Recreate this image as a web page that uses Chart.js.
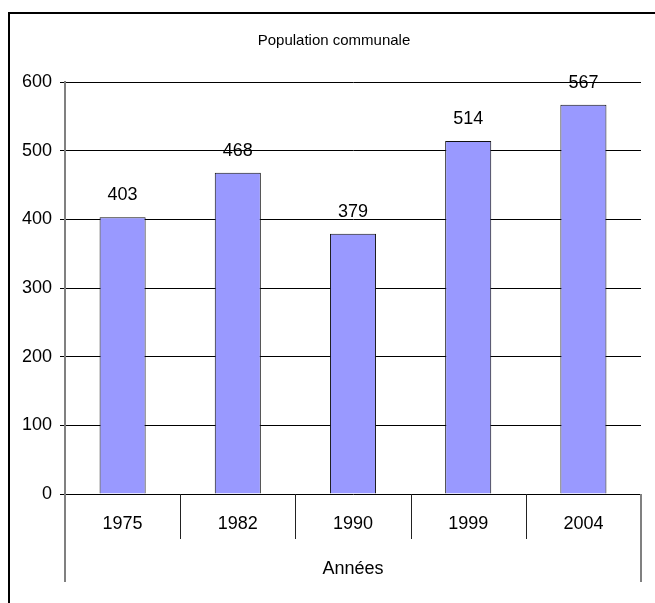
<!DOCTYPE html>
<html>
<head>
<meta charset="utf-8">
<script src="https://cdn.jsdelivr.net/npm/chart.js@4"></script>
<style>
  html, body { margin: 0; padding: 0; background: #fff; }
  canvas { display: block; }
</style>
</head>
<body>
<canvas id="chart" width="655" height="603"></canvas>
<script>
var years = ["1975", "1982", "1990", "1999", "2004"];
var population = [403, 468, 379, 514, 567];
var yMin = 0;
var yMax = 600;
var yStep = 100;
var chartTitle = "Population communale";
var axisTitle = "Années";

var fontFamily = "'Liberation Sans', Arial, sans-serif";

// value labels above the bars
var valueLabels = {
  id: 'valueLabels',
  afterDatasetsDraw: function (chart) {
    var ctx = chart.ctx;
    var meta = chart.getDatasetMeta(0);
    ctx.save();
    ctx.font = "18px " + fontFamily;
    ctx.fillStyle = "#000";
    ctx.textAlign = "center";
    ctx.textBaseline = "middle";
    meta.data.forEach(function (bar, i) {
      ctx.fillText(population[i], bar.x, bar.y - 22);
    });
    ctx.restore();
  }
};

// frame, title + category separators under the x axis
var decor = {
  id: 'decor',
  beforeDraw: function (chart) {
    var ctx = chart.ctx;
    ctx.save();
    ctx.fillStyle = "#fff";
    ctx.fillRect(0, 0, chart.width, chart.height);
    ctx.restore();
  },
  afterDraw: function (chart) {
    var ctx = chart.ctx;
    var a = chart.chartArea;
    var xs = chart.scales.x;
    var n = years.length;
    ctx.save();
    ctx.strokeStyle = "#000";
    ctx.lineWidth = 2;
    ctx.beginPath();
    ctx.moveTo(9, chart.height);
    ctx.lineTo(9, 13);
    ctx.lineTo(chart.width, 13);
    ctx.stroke();

    ctx.font = "15px " + fontFamily;
    ctx.fillStyle = "#000";
    ctx.textAlign = "center";
    ctx.textBaseline = "middle";
    ctx.fillText(chartTitle, 334, 41);

    for (var i = 0; i <= n; i++) {
      var x, y2;
      if (i == 0 || i == n) {
        x = i == 0 ? a.left : a.right;
        y2 = a.bottom + 88;
        ctx.strokeStyle = "#808080";
        ctx.lineWidth = 2;
      } else {
        x = Math.round((xs.getPixelForValue(i - 1) + xs.getPixelForValue(i)) / 2) + 0.5;
        y2 = a.bottom + 45;
        ctx.strokeStyle = "#222";
        ctx.lineWidth = 1;
      }
      ctx.beginPath();
      ctx.moveTo(x, a.bottom);
      ctx.lineTo(x, y2);
      ctx.stroke();
    }
    ctx.restore();
  }
};

var chart = new Chart(document.getElementById("chart"), {
  type: 'bar',
  data: {
    labels: years,
    datasets: [{
      label: chartTitle,
      data: population,
      backgroundColor: '#9999FF',
      borderColor: '#111',
      borderWidth: 1,
      categoryPercentage: 1,
      barPercentage: 0.4
    }]
  },
  options: {
    responsive: false,
    animation: false,
    devicePixelRatio: 1,
    layout: {
      padding: { left: 0, right: 14, top: 82, bottom: 0 }
    },
    plugins: {
      legend: { display: false },
      tooltip: { enabled: false },
      title: { display: false }
    },
    scales: {
      x: {
        grid: { display: false, drawTicks: false },
        border: { display: false },
        ticks: {
          color: '#000',
          padding: 19,
          font: { family: fontFamily, size: 18 }
        },
        title: {
          display: true,
          text: axisTitle,
          color: '#000',
          font: { family: fontFamily, size: 18 },
          padding: { top: 25, bottom: 23 }
        },
        afterFit: function (s) { s.height = 109; }
      },
      y: {
        min: yMin,
        max: yMax,
        ticks: {
          stepSize: yStep,
          color: '#000',
          padding: 8,
          font: { family: fontFamily, size: 18 }
        },
        grid: {
          color: '#000',
          lineWidth: 1,
          tickLength: 5,
          tickColor: '#000'
        },
        border: { color: '#808080', width: 2 },
        afterFit: function (s) { s.width = 65; }
      }
    }
  },
  plugins: [decor, valueLabels]
});
</script>
</body>
</html>
